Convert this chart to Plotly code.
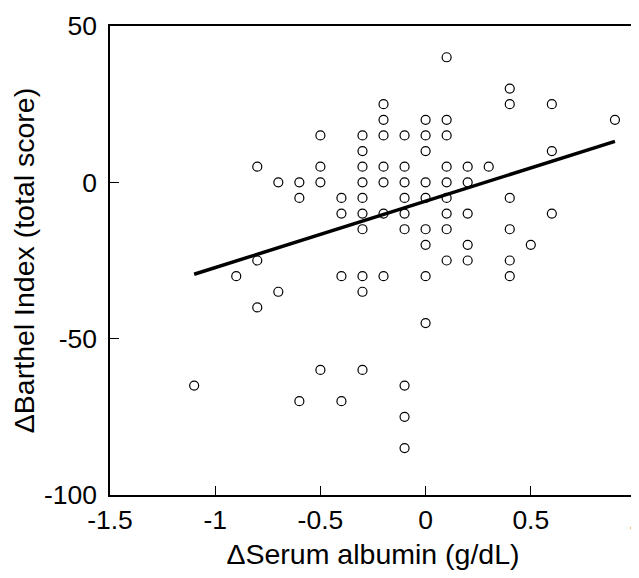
import plotly.graph_objects as go

# Scatter data: change in serum albumin (g/dL) vs change in Barthel Index
albumin = [
    0.1,
    0.4,
    0.4, 0.6, -0.2,
    -0.2, 0.0, 0.1, 0.9,
    -0.5, -0.3, -0.2, -0.1, 0.0, 0.1,
    -0.3, 0.0, 0.6,
    -0.8, -0.5, -0.3, -0.2, -0.1, 0.1, 0.2, 0.3,
    -0.7, -0.6, -0.5, -0.3, -0.2, -0.1, 0.0, 0.1, 0.2,
    -0.6, -0.4, -0.3, -0.1, 0.0, 0.1, 0.4,
    -0.4, -0.3, -0.2, -0.1, 0.1, 0.2, 0.6,
    -0.3, -0.1, 0.0, 0.1, 0.4,
    0.0, 0.2, 0.5,
    -0.8, 0.1, 0.2, 0.4,
    -0.9, -0.4, -0.3, -0.2, 0.0, 0.4,
    -0.7, -0.3,
    -0.8,
    0.0,
    -0.5, -0.3,
    -1.1, -0.1,
    -0.6, -0.4,
    -0.1,
    -0.1,
]
barthel = [
    40,
    30,
    25, 25, 25,
    20, 20, 20, 20,
    15, 15, 15, 15, 15, 15,
    10, 10, 10,
    5, 5, 5, 5, 5, 5, 5, 5,
    0, 0, 0, 0, 0, 0, 0, 0, 0,
    -5, -5, -5, -5, -5, -5, -5,
    -10, -10, -10, -10, -10, -10, -10,
    -15, -15, -15, -15, -15,
    -20, -20, -20,
    -25, -25, -25, -25,
    -30, -30, -30, -30, -30, -30,
    -35, -35,
    -40,
    -45,
    -60, -60,
    -65, -65,
    -70, -70,
    -75,
    -85,
]

# Regression line end points
fit_x = [-1.1, 0.9]
fit_y = [-29.4, 13.1]

x_ticks = [-1.5, -1, -0.5, 0, 0.5, 1]
x_ticktext = ["-1.5", "-1", "-0.5", "0", "0.5", "1"]
y_ticks = [-100, -50, 0, 50]
y_ticktext = ["-100", "-50", "0", "50"]

font_family = "Liberation Sans, Arial, sans-serif"
tick_size = 26.5
title_size = 28.5

fig = go.Figure()
fig.add_trace(go.Scatter(
    x=fit_x, y=fit_y, mode="lines",
    line=dict(color="black", width=3.5),
    showlegend=False, hoverinfo="skip",
))
fig.add_trace(go.Scatter(
    x=albumin, y=barthel, mode="markers",
    marker=dict(symbol="circle-open", size=9, color="black",
                line=dict(width=1.2, color="black")),
    showlegend=False,
))

axis_common = dict(
    showgrid=False, zeroline=False, automargin=False,
    showline=True, linecolor="black", linewidth=1.5, mirror=True,
    ticks="inside", ticklen=9, tickwidth=1, tickcolor="black",
    tickfont=dict(family=font_family, size=tick_size, color="black"),
    ticklabeloverflow="allow",
)

# The page body has an 8px margin, so the figure is sized to fit the window
fig.update_layout(
    width=631, height=570,
    margin=dict(l=102, r=3, t=18, b=83),
    paper_bgcolor="white", plot_bgcolor="white",
    font=dict(family=font_family, color="black"),
    xaxis=dict(
        range=[-1.5, 1], tickvals=x_ticks, ticktext=x_ticktext,
        title=dict(text="\u0394Serum albumin (g/dL)",
                   font=dict(family=font_family, size=title_size, color="black"),
                   standoff=11),
        ticklabelstandoff=0,
        **axis_common,
    ),
    yaxis=dict(
        range=[-100, 50], tickvals=y_ticks, ticktext=y_ticktext,
        title=dict(text="\u0394Barthel Index (total score)",
                   font=dict(family=font_family, size=title_size, color="black"),
                   standoff=4),
        ticklabelstandoff=6,
        **axis_common,
    ),
)

fig.write_html("out.html")
